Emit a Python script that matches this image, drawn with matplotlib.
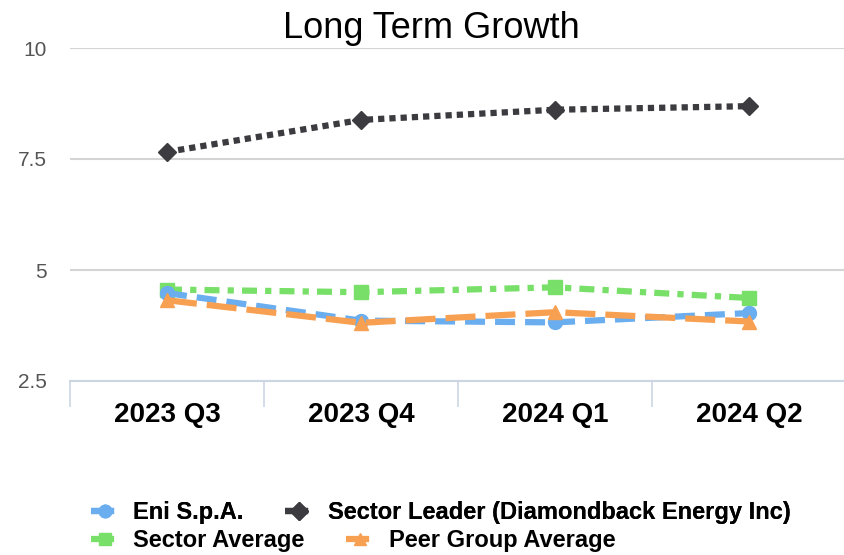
import matplotlib
matplotlib.use("Agg")
import matplotlib.pyplot as plt
from matplotlib.lines import Line2D

plt.rcParams['font.family'] = ['Liberation Sans', 'DejaVu Sans']

quarters = ['2023 Q3', '2023 Q4', '2024 Q1', '2024 Q2']
eni = [4.48, 3.86, 3.82, 4.03]
leader = [7.66, 8.38, 8.61, 8.69]
sector_avg = [4.56, 4.50, 4.61, 4.37]
peer_avg = [4.32, 3.81, 4.05, 3.84]

fig = plt.figure(figsize=(8.45, 5.55), dpi=100)
ax = fig.add_axes([70 / 845, 1 - 381 / 555, 776 / 845, 333 / 555])

x = range(len(quarters))
lw = 4.5
ax.plot(x, leader, color='#3b3b40', linestyle=(0, (1, 0.8)), linewidth=lw,
        marker='D', markersize=9, label='Sector Leader (Diamondback Energy Inc)', zorder=3)
ax.plot(x, eni, color='#6aaeef', linestyle=(0, (3.2, 1.6)), linewidth=lw,
        marker='o', markersize=10, label='Eni S.p.A.', zorder=4)
ax.plot(x, sector_avg, color='#78e068', linestyle=(0, (2.4, 1.3, 1, 1.3)), linewidth=lw,
        marker='s', markersize=10, label='Sector Average', zorder=3)
ax.plot(x, peer_avg, color='#f7a052', linestyle=(0, (4.8, 1.6)), linewidth=lw,
        marker='^', markersize=10, label='Peer Group Average', zorder=5)

ax.set_xlim(-0.5, 3.5)
ax.set_ylim(2.5, 10)
ax.set_yticks([2.5, 5, 7.5, 10])
ax.set_yticklabels(['2.5', '5', '7.5', '10'], color='#555555', fontsize=15)
ax.yaxis.grid(True, color='#d4d4d4', linewidth=1.5)
ax.tick_params(axis='y', length=0, pad=17)
ax.set_xticks(list(x))
ax.set_xticklabels(quarters, fontsize=20, fontweight='bold')
ax.tick_params(axis='x', length=0, pad=15)
ax.set_xticks([-0.5, 0.5, 1.5, 2.5], minor=True)
ax.tick_params(axis='x', which='minor', length=19, color='#ccd6e3', width=1.2)
for s in ['top', 'right', 'left']:
    ax.spines[s].set_visible(False)
ax.spines['bottom'].set_color('#ccd6e3')
ax.spines['bottom'].set_linewidth(1.5)
ax.set_axisbelow(True)

fig.text(431 / 845, 1 - 38 / 555, 'Long Term Growth', ha='center', va='baseline', fontsize=26)

h = {l.get_label(): l for l in ax.get_lines()}
def handle(name):
    l = h[name]
    return Line2D([], [], color=l.get_color(), linestyle=l.get_linestyle(), linewidth=lw,
                  marker=l.get_marker(), markersize=9)

legend_style = dict(ncol=2, loc='center left', frameon=False, handlelength=1.2,
                    handletextpad=0.6, columnspacing=1.75, borderpad=0, borderaxespad=0,
                    prop={'size': 17, 'weight': 'bold'})
leg1 = fig.legend([handle('Eni S.p.A.'), handle('Sector Leader (Diamondback Energy Inc)')],
                  ['Eni S.p.A.', 'Sector Leader (Diamondback Energy Inc)'],
                  bbox_to_anchor=(91 / 845, 1 - 513 / 555), **legend_style)
fig.add_artist(leg1)
fig.legend([handle('Sector Average'), handle('Peer Group Average')],
           ['Sector Average', 'Peer Group Average'],
           bbox_to_anchor=(91 / 845, 1 - 541 / 555), **legend_style)

fig.savefig('out.png', dpi=100)
